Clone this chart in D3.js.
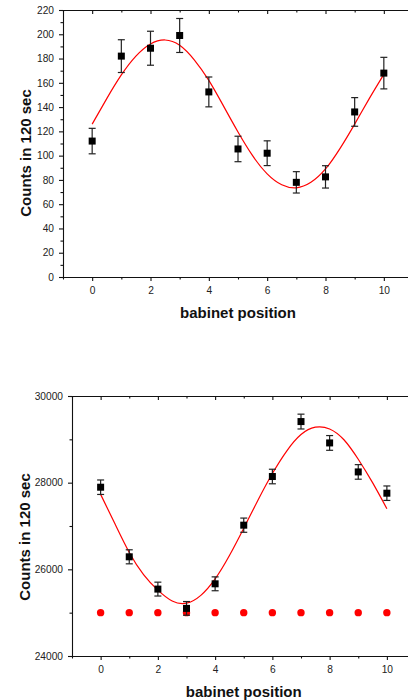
<!DOCTYPE html>
<html>
<head>
<meta charset="utf-8">
<script src="https://cdn.jsdelivr.net/npm/d3@7"></script>
<style>
  body { margin: 0; background: #fff; }
  svg { display: block; font-family: "Liberation Sans", Arial, sans-serif; }
  .tick text { fill: #222; font-size: 10.2px; }
  .axisTitle { font-weight: bold; font-size: 15px; fill: #111; }
</style>
</head>
<body>
<div id="chart"></div>
<script>

// babinet positions
const positions = [0, 1, 2, 3, 4, 5, 6, 7, 8, 9, 10];

// upper panel: counts and error bars
const topCounts = [112, 182, 188.5, 199, 152.5, 105.5, 102, 78, 82.5, 136, 168];
const topErrors = [10.5, 13.5, 14, 14, 12.3, 10.5, 10.2, 8.8, 9.2, 11.8, 13];

// upper panel: fit curve
const topFitX = [0, 0.5, 1, 1.5, 2, 2.5, 3, 3.5, 4, 4.5, 5, 5.5, 6, 6.5, 7, 7.5, 8, 8.5, 9, 9.5, 10];
const topFitY = [126, 147, 166.5, 182, 192, 195.3, 191, 179, 162, 141, 119.5, 100, 85, 76, 73.5, 78, 89, 106, 126, 147, 167];

// lower panel: counts and error bars
const botCounts = [27895, 26289, 25544, 25099, 25666, 27019, 28142, 29410, 28917, 28248, 27757];
const botErrors = [167, 162, 160, 158, 160, 164, 168, 171, 170, 168, 167];

// lower panel: background level (red dots)
const botBackground = [25000, 25000, 25000, 25000, 25000, 25000, 25000, 25000, 25000, 25000, 25000];

// lower panel: fit curve
const botFitX = [0, 0.5, 1, 1.5, 2, 2.5, 3, 3.5, 4, 4.5, 5, 5.5, 6, 6.5, 7, 7.5, 8, 8.5, 9, 9.5, 10];
const botFitY = [27730, 27050, 26390, 25880, 25520, 25270, 25220, 25400, 25780, 26320, 26950, 27600, 28210, 28730, 29110, 29280, 29240, 28990, 28540, 28000, 27400];

// axis ticks
const xMajor = [0, 2, 4, 6, 8, 10];
const xMinor = [-1, 1, 3, 5, 7, 9, 11];
const topYMajor = [0, 20, 40, 60, 80, 100, 120, 140, 160, 180, 200, 220];
const topYMinor = [10, 30, 50, 70, 90, 110, 130, 150, 170, 190, 210];
const botYMajor = [24000, 26000, 28000, 30000];
const botYMinor = [25000, 27000, 29000];

const xTitle = "babinet position";
const yTitle = "Counts in 120 sec";


function makePanel(svg, cfg) {

    /**********************
    ***** BASIC SETUP *****
    **********************/

    const RED = "#ff0000";
    const BAR = "#222";
    const SQUARE = 7;
    const CAP = 3.5;

    var x = d3.scaleLinear()
        .domain([-1, 11])
        .range([cfg.left, cfg.right]);

    var y = d3.scaleLinear()
        .domain(cfg.yDomain)
        .range([cfg.bottom, cfg.top]);

    const g = svg.append("g")
        .attr("class", "panel");

    /*****************
    ***** AXES *****
    *****************/

    function styleAxis(sel) {
        sel.selectAll("path, line")
            .attr("stroke", "#111")
            .attr("stroke-width", 1.1);
    }

    // bottom axis, major ticks with labels
    g.append("g")
        .attr("transform", `translate(0, ${cfg.bottom})`)
        .call(d3.axisBottom(x).tickValues(xMajor).tickSize(4).tickSizeOuter(0).tickPadding(6).tickFormat(d3.format("d")))
        .call(styleAxis);

    // bottom axis, minor ticks
    g.append("g")
        .attr("transform", `translate(0, ${cfg.bottom})`)
        .call(d3.axisBottom(x).tickValues(xMinor).tickSize(2.5).tickSizeOuter(0).tickFormat(""))
        .call(styleAxis)
        .select(".domain").remove();

    // top frame with inward ticks
    g.append("g")
        .attr("transform", `translate(0, ${cfg.top})`)
        .call(d3.axisBottom(x).tickValues(xMajor).tickSize(4).tickSizeOuter(0).tickFormat(""))
        .call(styleAxis);

    g.append("g")
        .attr("transform", `translate(0, ${cfg.top})`)
        .call(d3.axisBottom(x).tickValues(xMinor).tickSize(2.5).tickSizeOuter(0).tickFormat(""))
        .call(styleAxis)
        .select(".domain").remove();

    // left axis
    g.append("g")
        .attr("transform", `translate(${cfg.left}, 0)`)
        .call(d3.axisLeft(y).tickValues(cfg.yMajor).tickSize(4).tickSizeOuter(0).tickPadding(5).tickFormat(d3.format("d")))
        .call(styleAxis);

    g.append("g")
        .attr("transform", `translate(${cfg.left}, 0)`)
        .call(d3.axisLeft(y).tickValues(cfg.yMinor).tickSize(2.5).tickSizeOuter(0).tickFormat(""))
        .call(styleAxis)
        .select(".domain").remove();

    // right frame (mostly outside the window)
    g.append("g")
        .attr("transform", `translate(${cfg.right}, 0)`)
        .call(d3.axisRight(y).tickValues(cfg.yMajor).tickSize(-4).tickSizeOuter(0).tickFormat(""))
        .call(styleAxis);

    /*******************
    ***** FIT LINE *****
    *******************/

    var line = d3.line()
        .x(d => x(d[0]))
        .y(d => y(d[1]))
        .curve(d3.curveNatural);

    g.append("path")
        .datum(d3.zip(cfg.fitX, cfg.fitY))
        .attr("d", line)
        .attr("fill", "none")
        .attr("stroke", RED)
        .attr("stroke-width", 1.2);

    /*********************
    ***** BACKGROUND *****
    *********************/

    if (cfg.background) {
        g.selectAll(".bg")
            .data(d3.zip(positions, cfg.background))
            .enter()
            .append("circle")
            .attr("class", "bg")
            .attr("cx", d => x(d[0]))
            .attr("cy", d => y(d[1]))
            .attr("r", 3.7)
            .attr("fill", RED);
    }

    /***********************
    ***** ERROR BARS *****
    ***********************/

    var pts = positions.map((p, i) => ({x: p, v: cfg.counts[i], e: cfg.errors[i]}));

    var bars = g.selectAll(".err")
        .data(pts)
        .enter()
        .append("g")
        .attr("class", "err")
        .attr("stroke", BAR)
        .attr("stroke-width", 1.2);

    bars.append("line")
        .attr("x1", d => x(d.x))
        .attr("x2", d => x(d.x))
        .attr("y1", d => y(d.v - d.e))
        .attr("y2", d => y(d.v + d.e));

    bars.append("line")
        .attr("x1", d => x(d.x) - CAP)
        .attr("x2", d => x(d.x) + CAP)
        .attr("y1", d => y(d.v + d.e))
        .attr("y2", d => y(d.v + d.e));

    bars.append("line")
        .attr("x1", d => x(d.x) - CAP)
        .attr("x2", d => x(d.x) + CAP)
        .attr("y1", d => y(d.v - d.e))
        .attr("y2", d => y(d.v - d.e));

    /********************
    ***** DATA MARKS *****
    ********************/

    g.selectAll(".pt")
        .data(pts)
        .enter()
        .append("rect")
        .attr("class", "pt")
        .attr("x", d => x(d.x) - SQUARE / 2)
        .attr("y", d => y(d.v) - SQUARE / 2)
        .attr("width", SQUARE)
        .attr("height", SQUARE)
        .attr("fill", "#000");

    /*********************
    ***** AXIS TITLES *****
    *********************/

    g.append("text")
        .attr("class", "axisTitle")
        .attr("x", (cfg.left + cfg.right) / 2)
        .attr("y", cfg.xTitleY)
        .attr("text-anchor", "middle")
        .text(xTitle);

    g.append("text")
        .attr("class", "axisTitle")
        .attr("transform", `translate(${cfg.yTitleX}, ${cfg.yTitleY}) rotate(-90)`)
        .attr("dy", "0.35em")
        .attr("text-anchor", "middle")
        .text(yTitle);
}

const svg = d3.select("#chart")
    .append("svg")
    .attr("width", 408)
    .attr("height", 700);

makePanel(svg, {
    left: 63, right: 413, top: 10, bottom: 277,
    yDomain: [0, 220], yMajor: topYMajor, yMinor: topYMinor,
    counts: topCounts, errors: topErrors,
    fitX: topFitX, fitY: topFitY,
    xTitleY: 318, yTitleX: 26, yTitleY: 153
});

makePanel(svg, {
    left: 72, right: 415.5, top: 396, bottom: 656,
    yDomain: [24000, 30000], yMajor: botYMajor, yMinor: botYMinor,
    counts: botCounts, errors: botErrors,
    background: botBackground,
    fitX: botFitX, fitY: botFitY,
    xTitleY: 697, yTitleX: 25, yTitleY: 537
});

</script>
</body>
</html>
